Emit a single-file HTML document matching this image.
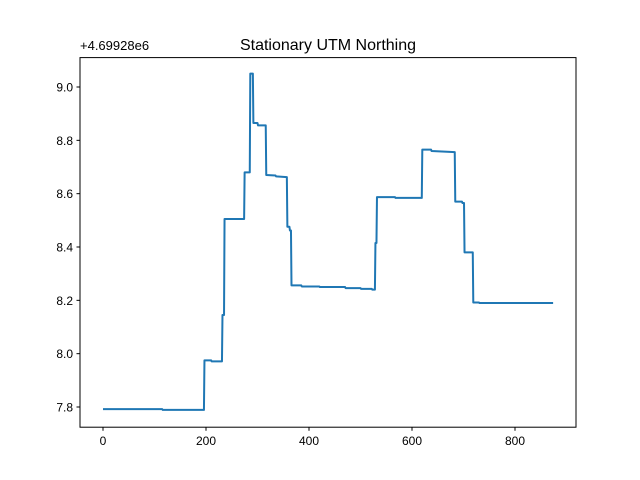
<!DOCTYPE html>
<html><head><meta charset="utf-8"><style>body{margin:0;background:#fff}svg{display:block;font-family:"Liberation Sans","DejaVu Sans",sans-serif}</style></head>
<body>
<svg id="chart" width="640" height="480">
<rect width="640" height="480" fill="#fff"/>
<text x="328" y="50" font-size="16" text-anchor="middle">Stationary UTM Northing</text>
<text x="80" y="50" font-size="13">+4.69928e6</text>
<g id="plot"></g>
<rect x="80" y="57.6" width="496" height="369.6" fill="none" stroke="#000" stroke-width="1"/>
</svg>
<script>
const xs = [0,115,116,196,197,210,211,231,232,235,236,239,240,274,275,285,286,291,292,300,301,316,317,335,336,357,358,362,363,365,366,385,386,420,421,470,471,500,501,522,523,528,529,531,532,567,568,619,620,637,638,683,684,697,698,701,702,718,719,730,731,874];
const ys = [7.792,7.792,7.789,7.789,7.975,7.975,7.971,7.971,8.145,8.145,8.505,8.505,8.505,8.505,8.68,8.68,9.05,9.05,8.865,8.865,8.856,8.856,8.67,8.668,8.665,8.662,8.476,8.476,8.462,8.462,8.256,8.256,8.252,8.252,8.25,8.25,8.246,8.246,8.243,8.243,8.24,8.24,8.415,8.415,8.587,8.587,8.584,8.584,8.765,8.765,8.76,8.756,8.57,8.57,8.565,8.565,8.38,8.38,8.192,8.192,8.19,8.19];
const xTicks = [0,200,400,600,800];
const yTicks = [7.8,8.0,8.2,8.4,8.6,8.8,9.0];
const X = v => 103 + v*0.515;
const Y = v => 87 + (9.0 - v)*266.67;
const NS="http://www.w3.org/2000/svg", g=document.getElementById('plot');
function mk(t,a,txt){const e=document.createElementNS(NS,t);for(const k in a)e.setAttribute(k,a[k]);if(txt!==undefined)e.textContent=txt;g.appendChild(e);return e;}
xTicks.forEach(v=>{
 const l=mk('line',{x1:X(v),x2:X(v),y1:427.2,y2:430.7,stroke:'#000'});
 
 
 const t=mk('text',{x:X(v),y:445,'font-size':12,'text-anchor':'middle'},String(v));
 
 
});
yTicks.forEach(v=>{
 const l=mk('line',{x1:76.5,x2:80,y1:Y(v),y2:Y(v),stroke:'#000'});
 
 
 const t=mk('text',{x:73,y:Y(v)+4.5,'font-size':12,'text-anchor':'end'},v.toFixed(1));
 
 
});
const p=mk('polyline',{points:xs.map((x,i)=>X(x)+','+Y(ys[i])).join(' '),fill:'none',stroke:'#1f77b4','stroke-width':2,'stroke-linejoin':'round'});


</script>
</body></html>
